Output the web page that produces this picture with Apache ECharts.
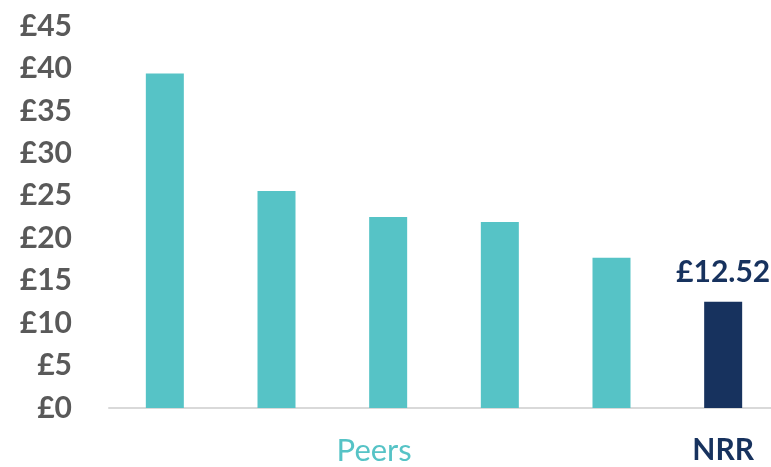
<!DOCTYPE html>
<html><head><meta charset="utf-8">
<script src="https://cdn.jsdelivr.net/npm/echarts@6/dist/echarts.min.js"></script>
<style>html,body{margin:0;padding:0;background:#fff}#c{width:771px;height:467px}</style>
</head><body><div id="c"></div>
<script>
const categories = ["Peer 1", "Peer 2", "Peer 3", "Peer 4", "Peer 5", "NRR"];
const values = [39.4, 25.55, 22.5, 21.9, 17.7, 12.52];
const axisNames = {2: "Peers", 5: "NRR"};
const TEAL = "#56C3C6", NAVY = "#17325E";
const chart = echarts.init(document.getElementById('c'));
chart.setOption({
  animation: false,
  grid: {left: 109, width: 670, top: 26, bottom: 59, outerBoundsMode: 'none', containLabel: false},
  xAxis: {
    type: 'category', data: categories,
    axisLine: {lineStyle: {color: '#D9D9D9', width: 2}},
    axisTick: {show: false},
    axisLabel: {
      interval: 0, margin: 27,
      formatter: (v, i) => axisNames[i] ? '{' + (i === 5 ? 'n' : 'p') + '|' + axisNames[i] + '}' : '',
      rich: {
        p: {color: TEAL, fontSize: 31, fontFamily: 'Lato', padding: [0, 28, 0, 0]},
        n: {color: NAVY, fontSize: 30, fontWeight: 'bold', fontFamily: 'Lato'}
      }
    }
  },
  yAxis: {
    type: 'value', min: 0, max: 45, interval: 5,
    splitLine: {show: false}, axisLine: {show: false}, axisTick: {show: false},
    axisLabel: {formatter: v => '£' + v, color: '#595959', fontSize: 30, fontWeight: 'bold', fontFamily: 'Lato', margin: 37}
  },
  series: [{
    type: 'bar', barWidth: 38,
    data: values.map((v, i) => ({
      value: v,
      itemStyle: {color: i === 5 ? NAVY : TEAL},
      label: i === 5 ? {show: true, position: 'top', distance: 14, formatter: '£' + v.toFixed(2),
        color: NAVY, fontSize: 30, fontWeight: 'bold', fontFamily: 'Lato'} : {show: false}
    }))
  }]
});
</script></body></html>
